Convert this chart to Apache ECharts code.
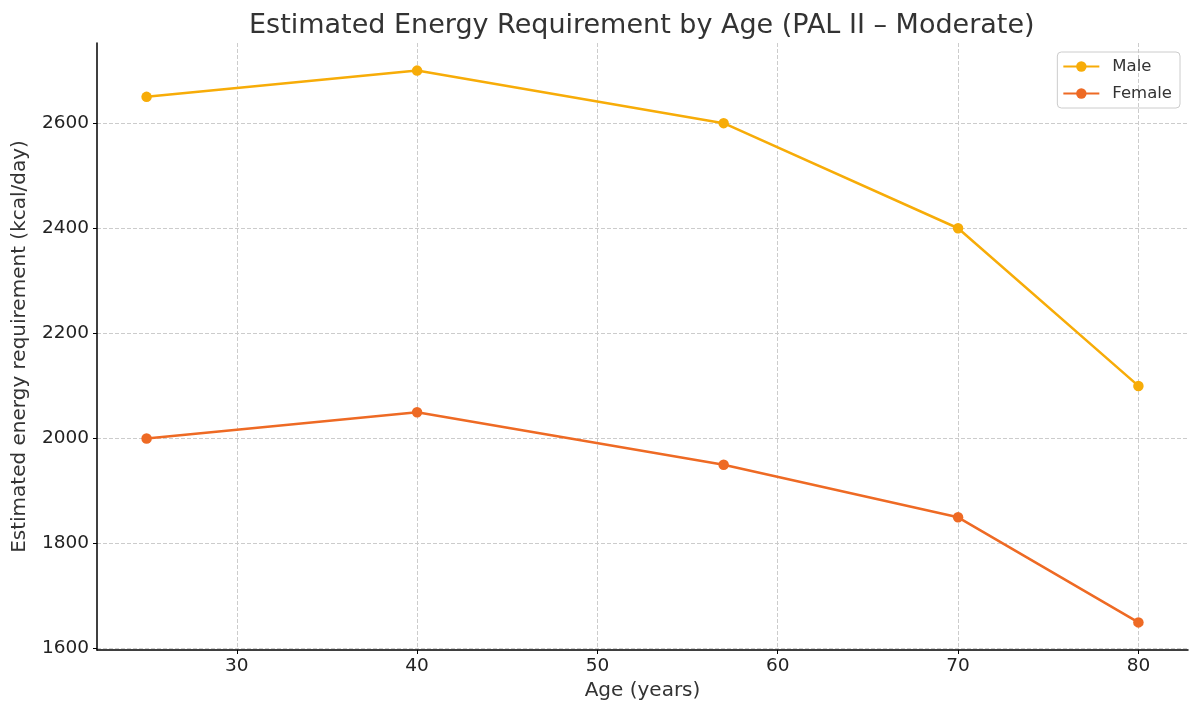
<!DOCTYPE html>
<html><head><meta charset="utf-8">
<script src="https://cdn.jsdelivr.net/npm/echarts@6/dist/echarts.min.js"></script>
<style>html,body{margin:0;padding:0;background:#fff}#c{width:1200px;height:715px}</style>
</head><body><div id="c"></div>
<script>
const ages = [25, 40, 57, 70, 80];
const maleValues = [2650, 2700, 2600, 2400, 2100];
const femaleValues = [2000, 2050, 1950, 1850, 1650];
const xTicks = [30, 40, 50, 60, 70, 80];
const yTicks = [1600, 1800, 2000, 2200, 2400, 2600];

const font = 'DejaVu Sans';
const chart = echarts.init(document.getElementById('c'));
const pair = (xs, ys) => xs.map((x, i) => [x, ys[i]]);
chart.setOption({
  animation: false,
  backgroundColor: '#fff',
  title: {
    text: 'Estimated Energy Requirement by Age (PAL II – Moderate)',
    left: 244, top: 7,
    textStyle: {fontFamily: font, fontSize: 27, fontWeight: 'normal', color: '#333'}
  },
  legend: {
    right: 20, top: 52, orient: 'vertical',
    itemWidth: 36, itemHeight: 13, itemGap: 10,
    padding: [6, 8, 6, 5],
    borderColor: '#ccc', borderWidth: 1, borderRadius: 4,
    textStyle: {fontFamily: font, fontSize: 16.5, color: '#333', padding: [0, 0, 0, 8]},
    data: ['Male', 'Female']
  },
  grid: {left: 97, right: 12, top: 43, bottom: 65},
  xAxis: {
    type: 'value', min: 22.25, max: 82.75,
    name: 'Age (years)', nameLocation: 'middle', nameGap: 31,
    nameTextStyle: {fontFamily: font, fontSize: 20, color: '#333'},
    axisLine: {show: true, lineStyle: {color: '#000', width: 1.5}},
    axisTick: {show: true, length: 4, customValues: xTicks, lineStyle: {color: '#000'}},
    axisLabel: {customValues: xTicks, formatter: v => String(v), fontFamily: font, fontSize: 18.5, color: '#222', margin: 7},
    splitLine: {show: true, lineStyle: {color: '#ccc', type: 'dashed', width: 1}}
  },
  yAxis: {
    type: 'value', min: 1597.5, max: 2752.5,
    name: 'Estimated energy requirement (kcal/day)', nameLocation: 'middle', nameGap: 67,
    nameTextStyle: {fontFamily: font, fontSize: 20, color: '#333'},
    axisLine: {show: true, lineStyle: {color: '#000', width: 1.5}},
    axisTick: {show: true, length: 4, customValues: yTicks, lineStyle: {color: '#000'}},
    axisLabel: {customValues: yTicks, formatter: v => String(v), fontFamily: font, fontSize: 18.5, color: '#222', margin: 8},
    splitLine: {show: true, lineStyle: {color: '#ccc', type: 'dashed', width: 1}}
  },
  series: [
    {name: 'Male', type: 'line', data: pair(ages, maleValues),
     symbol: 'circle', symbolSize: 10.5, color: '#F7AC08',
     lineStyle: {width: 2.5, color: '#F7AC08'}, itemStyle: {color: '#F7AC08'}},
    {name: 'Female', type: 'line', data: pair(ages, femaleValues),
     symbol: 'circle', symbolSize: 10.5, color: '#EE6A24',
     lineStyle: {width: 2.5, color: '#EE6A24'}, itemStyle: {color: '#EE6A24'}}
  ]
});
</script></body></html>
